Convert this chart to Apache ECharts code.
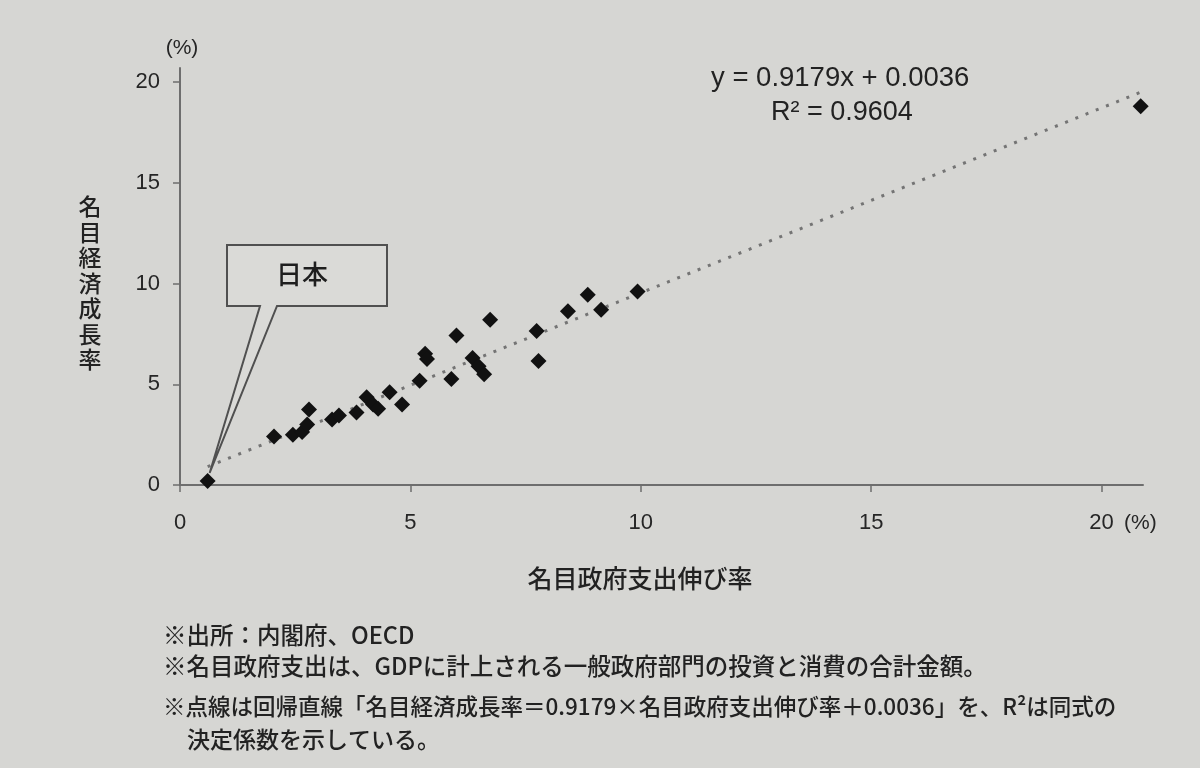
<!DOCTYPE html>
<html><head><meta charset="utf-8">
<script src="https://cdn.jsdelivr.net/npm/echarts@6/dist/echarts.min.js"></script>
<style>html,body{margin:0;padding:0;background:#d6d6d3;} #c{width:1200px;height:768px;}</style>
</head><body><div id="c"></div>
<script>
// Nominal government expenditure growth (%) and nominal GDP growth (%)
const govGrowth = [0.6, 2.04, 2.45, 2.65, 2.76, 2.8, 3.3, 3.45, 3.83, 4.05, 4.19, 4.3, 4.55, 4.82, 5.2, 5.32, 5.36, 5.89, 6.0, 6.35, 6.48, 6.6, 6.73, 7.74, 7.78, 8.42, 8.85, 9.14, 9.93, 20.85];
const gdpGrowth = [0.2, 2.41, 2.5, 2.63, 3.0, 3.75, 3.25, 3.45, 3.6, 4.35, 4.0, 3.78, 4.6, 4.0, 5.17, 6.52, 6.25, 5.26, 7.42, 6.3, 5.9, 5.5, 8.2, 7.64, 6.16, 8.62, 9.44, 8.7, 9.6, 18.8];
const xTickValues = [0, 5, 10, 15, 20];
const yTickValues = [0, 5, 10, 15, 20];
const regSlope = 0.9179;
const regIntercept = 0.36; // 0.0036 expressed in percent
const japanIndex = 0;

const points = govGrowth.map((x, i) => [x, gdpGrowth[i]]);
const xMin = Math.min(...govGrowth), xMax = Math.max(...govGrowth);
const trend = [[xMin, regSlope * xMin + regIntercept], [xMax, regSlope * xMax + regIntercept]];

const chart = echarts.init(document.getElementById('c'));
const numFont = '"Liberation Sans", Arial, sans-serif';
const jpFont = '"Noto Sans CJK JP", sans-serif';
chart.setOption({
  backgroundColor: '#d6d6d3',
  animation: false,
  grid: { left: 180, right: 57, top: 68, bottom: 283, containLabel: false },
  xAxis: {
    type: 'value', min: 0, max: 20.9, interval: 5,
    axisLine: { show: true, lineStyle: { color: '#6e6e6e', width: 2 } },
    axisTick: { show: true, customValues: xTickValues, length: 7, inside: false, lineStyle: { color: '#6e6e6e', width: 1.5 } },
    axisLabel: { customValues: xTickValues, margin: 27, color: '#262626', fontSize: 22, fontFamily: numFont },
    splitLine: { show: false }
  },
  yAxis: {
    type: 'value', min: 0, max: 20.7, interval: 5,
    axisLine: { show: true, lineStyle: { color: '#6e6e6e', width: 2 } },
    axisTick: { show: true, customValues: yTickValues, length: 7, lineStyle: { color: '#6e6e6e', width: 1.5 } },
    axisLabel: { customValues: yTickValues, margin: 20, color: '#262626', fontSize: 22, fontFamily: numFont },
    splitLine: { show: false }
  },
  series: [
    {
      type: 'line', data: trend, symbol: 'none', silent: true, z: 1,
      lineStyle: { color: '#747474', width: 3, type: [3, 8] }
    },
    {
      type: 'scatter', data: points, symbol: 'diamond', symbolSize: 16, z: 2,
      itemStyle: { color: '#111111', opacity: 1 }
    }
  ]
});

const tip = chart.convertToPixel({ gridIndex: 0 }, points[japanIndex]);
const tx = tip[0] + 2, ty = tip[1] - 8;
const footStyle = { fill: '#222', fontFamily: jpFont, fontWeight: 500, verticalAlign: 'middle' };
function foot(text, x, y, size) {
  return { type: 'text', x: x, y: y, style: Object.assign({ text: text, fontSize: size }, footStyle) };
}
chart.setOption({
  graphic: [
    { type: 'polygon', z: 10,
      shape: { points: [[227, 245], [387, 245], [387, 306], [277, 306], [tx, ty], [260, 306], [227, 306]] },
      style: { fill: '#dadad7', stroke: '#505050', lineWidth: 2 } },
    { type: 'text', z: 11, x: 302, y: 274,
      style: { text: '日本', fill: '#1e1e1e', fontSize: 26, fontFamily: jpFont, fontWeight: 500, align: 'center', verticalAlign: 'middle' } },
    { type: 'text', x: 182, y: 48,
      style: { text: '(%)', fill: '#262626', fontSize: 21, fontFamily: numFont, align: 'center', verticalAlign: 'middle' } },
    { type: 'text', x: 1124, y: 523,
      style: { text: '(%)', fill: '#262626', fontSize: 21, fontFamily: numFont, align: 'left', verticalAlign: 'middle' } },
    { type: 'text', x: 90, y: 194,
      style: { text: '名\n目\n経\n済\n成\n長\n率', fill: '#222', fontSize: 23, lineHeight: 25.5, fontFamily: jpFont, fontWeight: 500, align: 'center', verticalAlign: 'top' } },
    { type: 'text', x: 640, y: 578,
      style: { text: '名目政府支出伸び率', fill: '#222', fontSize: 25, fontFamily: jpFont, fontWeight: 500, align: 'center', verticalAlign: 'middle' } },
    { type: 'text', x: 711, y: 78,
      style: { text: 'y = 0.9179x + 0.0036', fill: '#222', fontSize: 27.5, fontFamily: numFont, align: 'left', verticalAlign: 'middle' } },
    { type: 'text', x: 771, y: 113,
      style: { text: 'R² = 0.9604', fill: '#222', fontSize: 27, fontFamily: numFont, align: 'left', verticalAlign: 'middle' } },
    foot('※出所：内閣府、OECD', 163, 635, 23.5),
    foot('※名目政府支出は、GDPに計上される一般政府部門の投資と消費の合計金額。', 163, 666, 23.5),
    foot('※点線は回帰直線「名目経済成長率＝0.9179×名目政府支出伸び率＋0.0036」を、R²は同式の', 163, 706, 22.5),
    foot('決定係数を示している。', 187, 739, 23)
  ]
});
</script>
</body></html>
